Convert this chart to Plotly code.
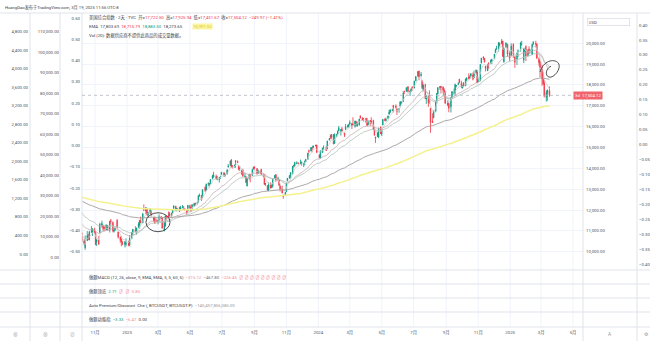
import pandas as pd
import plotly.graph_objects as go

# ---------------------------------------------------------------
# TVC:IXIC (US Composite Index), 2-day bars, Oct 2022 - Mar 2025
# ---------------------------------------------------------------
opens = [
    # Oct - Dec 2022
    10610, 11050, 10900, 10500, 10190, 10530, 10690, 10580, 10960, 10950, 11060,
    10900, 10470, 10590, 10900, 11270, 11250, 11200, 11050, 11250, 11040,
    11490, 11400, 10980, 11040, 11500, 10950, 10700, 10600, 10450, 10340, 10370,
    # Jan - Mar 2023
    10400, 10330, 10640, 10950, 11060, 10880, 11160, 11210, 11480, 11380,
    12020, 11950, 12050, 11740, 11860, 11900, 11640, 11660, 11500, 11440,
    11510, 11680, 11600, 11000, 11250, 11700, 11750, 11720, 11850, 11850, 12080,
    # Apr - Jun 2023
    12180, 11960, 12120, 12000, 12120, 12080, 12060, 12000, 11950, 12210,
    12080, 12080, 12200, 12320, 12300, 12380, 12700, 12700, 12600, 13100,
    12960, 13240, 13270, 13270, 13520, 13580, 13620, 13460, 13450, 13520, 13700,
    # Jul - Sep 2023
    13780, 13660, 13730, 14060, 14140, 14390, 14100, 14100, 14370, 14330,
    14130, 14000, 13900, 13900, 13610, 13580, 13150, 13540, 13700, 13660,
    13960, 14080, 13990, 13760, 13870, 13940, 13700, 13700, 13250, 13170, 12940,
    # Oct - Dec 2023
    13220, 13080, 13150, 13520, 13700, 13470, 13450, 13160, 13070, 12720,
    12700, 12880, 13400, 13530, 13660, 13730, 14150, 14120, 14230, 14260,
    14220, 14260, 14180, 14290, 14320, 14430, 14850, 14830, 15000, 15000, 15070, 15120,
    # Jan - Mar 2024
    14640, 14500, 14760, 15000, 14980, 14930, 15370, 15560, 15480, 15620,
    15200, 15600, 15640, 15810, 15760, 15900, 15700, 15870, 16000, 15990,
    16120, 16150, 16120, 16020, 16240, 16020, 16080, 16510, 16390, 16400,
    # Apr - Jun 2024
    16400, 16180, 16100, 16300, 16250, 16300, 15950, 15500, 15520, 15500,
    15980, 15640, 16080, 16360, 16300, 16400, 16600, 16700, 16790, 17030,
    16990, 16850, 16830, 16980, 17110, 17200, 17700, 17700, 17920, 17640, 17700, 17900,
    # Jul - Sep 2024
    17860, 18200, 18440, 18670, 18450, 18200, 17800, 18000, 17320, 17490,
    17400, 16880, 16270, 16430, 16770, 17210, 17570, 17880, 17940, 17900,
    17760, 17580, 17040, 17110, 16950, 17390, 17600, 17620, 17950, 18030, 18280, 18100,
    # Oct - Dec 2024
    17860, 18100, 17960, 18230, 18380, 18340, 18430, 18480, 18350, 18600,
    18620, 18180, 18200, 19050, 19350, 19280, 18900, 18680, 19020, 19100,
    19150, 19260, 19550, 19720, 19780, 19980, 19990, 20100, 19100, 19800, 19960, 19550,
    # Jan - Mar 2025
    19400, 19950, 19350, 19250, 19630, 19750, 19950, 19200, 19650, 19850,
    19400, 19730, 19630, 19450, 19960, 20000, 19960, 19250, 19150, 18900,
    18300, 18100, 17400, 17600, 17722.50,
]
highs = [
    11210, 11270, 10920, 10600, 10780, 10990, 10860, 10990, 11230, 11120, 11150,
    10990, 10600, 10750, 11390, 11490, 11300, 11250, 11310, 11290, 11470,
    11570, 11450, 11120, 11170, 11570, 10970, 10720, 10750, 10520, 10500, 10640,
    10530, 10800, 10940, 11090, 11220, 11150, 11420, 11520, 11690, 11850,
    12270, 12140, 12080, 11900, 12080, 11990, 11660, 11670, 11590, 11500,
    11790, 11710, 11660, 11460, 11740, 11720, 11930, 11900, 11870, 12040, 12230,
    12200, 12100, 12160, 12200, 12240, 12190, 12100, 12010, 12230, 12250,
    12150, 12280, 12340, 12360, 12400, 12700, 12790, 12720, 12990, 13120,
    13270, 13320, 13290, 13470, 13690, 13830, 13700, 13640, 13570, 13650, 13820,
    13830, 13760, 13960, 14200, 14380, 14450, 14160, 14190, 14400, 14380,
    14140, 14110, 13940, 13980, 13790, 13620, 13530, 13730, 13740, 13960,
    14080, 14090, 14000, 13930, 13880, 13980, 13730, 13710, 13300, 13180, 13330,
    13330, 13260, 13500, 13680, 13720, 13600, 13480, 13180, 13160, 12730,
    12860, 13310, 13540, 13680, 13800, 14110, 14170, 14310, 14340, 14270,
    14420, 14310, 14270, 14360, 14440, 14740, 14900, 15010, 15030, 15100, 15140, 15130,
    14680, 14850, 14990, 15100, 15060, 15320, 15450, 15620, 15630, 15650,
    15680, 15660, 15810, 16040, 15870, 15990, 15720, 16130, 16100, 16140,
    16300, 16170, 16450, 16290, 16280, 16250, 16380, 16540, 16460, 16420,
    16420, 16420, 16300, 16320, 16450, 16330, 15960, 15520, 15740, 15950,
    16010, 15850, 16360, 16400, 16440, 16530, 16800, 16850, 16860, 17040,
    17070, 16880, 16900, 17230, 17210, 17700, 17720, 17900, 17940, 17730, 17850, 17940,
    18200, 18420, 18650, 18680, 18620, 18240, 18040, 18060, 17520, 17510,
    17740, 16900, 16640, 16780, 17200, 17600, 17880, 17950, 17950, 17930,
    17850, 17720, 17260, 17160, 17410, 17700, 17830, 18070, 18000, 18130, 18290, 18200,
    18000, 18140, 18300, 18360, 18560, 18470, 18560, 18600, 18690, 18740,
    18720, 18370, 19000, 19300, 19370, 19290, 18920, 19020, 19100, 19220,
    19260, 19490, 19750, 19880, 20050, 20050, 20205, 20120, 19790, 20040, 19970, 19640,
    20000, 20000, 19380, 19560, 19710, 20070, 20120, 19780, 19770, 19900,
    19700, 19860, 19740, 19960, 20110, 20120, 19990, 19330, 19170, 18960,
    18600, 18250, 17750, 17780, 17925.94,
]
lows = [
    10590, 11000, 10470, 10320, 10090, 10520, 10560, 10540, 10900, 10750, 10860,
    10310, 10270, 10340, 10890, 11160, 11030, 10990, 11030, 11020, 10920,
    11300, 10930, 10920, 10990, 11100, 10630, 10430, 10260, 10310, 10200, 10260,
    10260, 10260, 10600, 10800, 10950, 10820, 11140, 11100, 11380, 11370,
    11950, 11800, 11740, 11650, 11810, 11690, 11440, 11330, 11430, 11310,
    11500, 11500, 11100, 10980, 11190, 11540, 11660, 11650, 11650, 11840, 12060,
    11960, 11940, 11920, 11990, 12080, 12000, 11960, 11780, 11940, 11990,
    11930, 12070, 12150, 12200, 12260, 12350, 12630, 12440, 12590, 12860,
    12930, 13150, 13080, 13230, 13470, 13560, 13470, 13430, 13320, 13500, 13690,
    13590, 13600, 13710, 14040, 14130, 14030, 13990, 14030, 14030, 14250,
    13900, 13880, 13690, 13580, 13560, 13300, 13140, 13460, 13330, 13640,
    13950, 13940, 13690, 13740, 13740, 13700, 13580, 13220, 13150, 12920, 12920,
    13030, 13050, 13080, 13500, 13360, 13390, 13160, 12890, 12800, 12540,
    12680, 12870, 13390, 13510, 13510, 13710, 14030, 14080, 14190, 14190,
    14210, 14130, 14060, 14140, 14310, 14420, 14720, 14820, 14770, 14960, 15050, 14730,
    14480, 14470, 14740, 14900, 14830, 14920, 15330, 15400, 15420, 15160,
    15180, 15500, 15630, 15780, 15570, 15760, 15500, 15850, 15950, 15930,
    16100, 15880, 16060, 15950, 16050, 16010, 16050, 16380, 16300, 16250,
    16170, 16040, 16080, 16040, 16140, 15830, 15560, 15220, 15500, 15450,
    15650, 15550, 16070, 16260, 16250, 16370, 16590, 16650, 16740, 16680,
    16870, 16560, 16670, 16970, 17070, 17190, 17570, 17670, 17640, 17470, 17690, 17720,
    17840, 18180, 18390, 18230, 18400, 17800, 17690, 17330, 17090, 16950,
    17100, 15710, 16180, 16400, 16690, 17100, 17560, 17760, 17600, 17600,
    17450, 17080, 16980, 16690, 16680, 17320, 17530, 17490, 17880, 17990, 18080, 17840,
    17830, 17900, 17950, 18200, 18260, 18290, 18400, 18220, 18340, 18540,
    18090, 18140, 18180, 19040, 19200, 19080, 18650, 18670, 18780, 19000,
    19000, 19250, 19530, 19700, 19600, 19850, 19950, 19340, 19080, 19780, 19350, 19150,
    19380, 19300, 18830, 18960, 19330, 19600, 19890, 19050, 19520, 19150,
    19360, 19500, 19520, 19440, 19930, 19800, 19260, 18930, 18380, 17960,
    18000, 17400, 17200, 17240, 17431.67,
]
closes = [
    11176, 11073, 10542, 10418, 10321, 10773, 10614, 10952, 10971, 11102, 10890,
    10343, 10565, 10353, 11323, 11358, 11145, 11025, 11285, 11049, 11468,
    11461, 11015, 11082, 11143, 11170, 10705, 10547, 10476, 10353, 10479, 10386,
    10305, 10636, 10932, 11079, 10958, 11140, 11334, 11512, 11394, 11816,
    12007, 12114, 11790, 11892, 12070, 11787, 11507, 11395, 11456, 11462,
    11676, 11576, 11138, 11429, 11717, 11675, 11670, 11824, 11716, 12013, 12190,
    11996, 12085, 11929, 12124, 12154, 12060, 12037, 11854, 12227, 12081,
    11966, 12256, 12306, 12285, 12344, 12688, 12721, 12484, 12976, 12935,
    13241, 13276, 13239, 13461, 13626, 13689, 13502, 13492, 13555, 13591, 13817,
    13680, 13686, 13919, 14114, 14354, 14064, 14059, 14128, 14317, 14284,
    13960, 14000, 13723, 13645, 13632, 13317, 13498, 13722, 13590, 13944,
    14035, 14020, 13748, 13918, 13813, 13709, 13679, 13224, 13271, 12963, 13219,
    13059, 13219, 13485, 13659, 13407, 13533, 13186, 13019, 12821, 12643,
    12851, 13294, 13518, 13650, 13798, 14094, 14113, 14285, 14266, 14242,
    14258, 14305, 14230, 14340, 14432, 14734, 14814, 15003, 14964, 15075, 15096, 14765,
    14510, 14843, 14970, 15004, 14856, 15311, 15426, 15511, 15628, 15164,
    15629, 15609, 15794, 15943, 15859, 15776, 15580, 15997, 16035, 16092,
    16207, 16032, 16085, 16265, 16129, 16166, 16369, 16429, 16316, 16379,
    16240, 16050, 16253, 16170, 16175, 15865, 15601, 15451, 15713, 15928,
    15658, 15841, 16349, 16302, 16341, 16511, 16698, 16795, 16802, 16921,
    16921, 16735, 16857, 17173, 17193, 17608, 17689, 17862, 17689, 17718, 17805, 17879,
    18188, 18403, 18647, 18398, 18509, 17871, 18007, 17342, 17358, 17147,
    17194, 16200, 16196, 16745, 17188, 17595, 17877, 17919, 17878, 17755,
    17516, 17136, 17128, 16885, 17396, 17684, 17628, 18014, 17974, 18082, 18120, 17910,
    17918, 17924, 18292, 18343, 18316, 18374, 18540, 18277, 18519, 18712,
    18095, 18180, 18983, 19287, 19282, 19107, 18792, 18967, 19004, 19175,
    19218, 19481, 19701, 19737, 20034, 19927, 20109, 19373, 19765, 20020, 19487, 19280,
    19865, 19479, 19088, 19511, 19630, 20009, 19955, 19734, 19681, 19392,
    19692, 19523, 19643, 19945, 20041, 19962, 19287, 19075, 18847, 18285,
    18069, 17468, 17648, 17754.09, 17504.12,
]
assert len(opens) == len(highs) == len(lows) == len(closes), (
    len(opens), len(highs), len(lows), len(closes))

# Exchange closures inside the window (for the trading calendar)
market_holidays = [
    "2022-11-24", "2022-12-26", "2023-01-02", "2023-01-16", "2023-02-20",
    "2023-04-07", "2023-05-29", "2023-06-19", "2023-07-04", "2023-09-04",
    "2023-11-23", "2023-12-25", "2024-01-01", "2024-01-15", "2024-02-19",
    "2024-03-29", "2024-05-27", "2024-06-19", "2024-07-04", "2024-09-02",
    "2024-11-28", "2024-12-25", "2025-01-01", "2025-01-09", "2025-01-20",
    "2025-02-17",
]

# Moving averages: period (bars), value on the first bar, colour
ema_periods = [5, 20, 30, 100, 200]
ema_start = [10900, 11440, 12000, 12480, 12640]
ema_colors = ["#cfcfcf", "#c7b0b2", "#b2c2b9", "#a59e9e", "#f4f18e"]
ema_widths = [0.8, 0.8, 0.8, 0.9, 1.5]

# Time-axis labels
month_ticks = ["2022-11-01", "2023-01-01", "2023-03-01", "2023-05-01", "2023-07-01",
               "2023-09-01", "2023-11-01", "2024-01-01", "2024-03-01", "2024-05-01",
               "2024-07-01", "2024-09-01", "2024-11-01", "2025-01-01", "2025-03-01",
               "2025-05-01"]
month_labels = ["11月", "2023", "3月", "5月", "7月", "9月", "11月", "2024", "3月", "5月",
                "7月", "9月", "11月", "2025", "3月", "5月"]

# Price scale and the extra indicator scales
price_ticks = list(range(10000, 20001, 1000))
price_range = [9122, 21454]
right_aux_range = [-0.417, 0.44]
left_aux1_ticks = list(range(0, 4801, 400))
left_aux1_range = [-345, 5204]
left_aux2_ticks = list(range(0, 110001, 10000))
left_aux2_range = [-6348, 119130]
left_aux3_range = [-0.586, 0.624]
x_range = ["2022-10-07", "2025-05-20"]

# Hand drawings on the chart (date, price)
ellipse_box = ("2023-02-06", "2023-03-24", 10960, 11870)
loop_points = [("2025-02-27", 18620), ("2025-03-05", 19150), ("2025-03-25", 19300),
               ("2025-04-03", 19050), ("2025-04-10", 18800), ("2025-03-25", 18300),
               ("2025-03-16", 18380), ("2025-03-08", 18450), ("2025-03-10", 18800),
               ("2025-03-20", 18900)]

# ---------------------------------------------------------------
W, H = 650, 341
FONT = "Roboto, 'Noto Sans CJK SC', sans-serif"
TXT = "#3b3e47"
AX_TXT = "#50535e"
GRID = "#f0f3fa"
SEP = "#e0e3eb"
UP, DOWN = "#089981", "#f23645"
FS = 4.3


def px(x):
    return x / W


def py(y):
    return 1 - y / H


cal = pd.offsets.CustomBusinessDay(holidays=market_holidays)
sessions = pd.date_range("2022-10-03", "2025-03-18", freq=cal)
bar_dates = sessions[::2][:len(closes)]


def ema(values, period, first):
    k = 2.0 / (period + 1)
    out = [first]
    for v in values[1:]:
        out.append(out[-1] + k * (v - out[-1]))
    return out


emas = [ema(closes, p, s) for p, s in zip(ema_periods, ema_start)]

fig = go.Figure()

fig.add_trace(go.Candlestick(
    x=bar_dates, open=opens, high=highs, low=lows, close=closes,
    increasing=dict(line=dict(color=UP, width=0.8), fillcolor=UP),
    decreasing=dict(line=dict(color=DOWN, width=0.8), fillcolor=DOWN),
    whiskerwidth=0, showlegend=False, hoverinfo="skip",
    xaxis="x", yaxis="y",
))
for vals, c, wd in zip(emas, ema_colors, ema_widths):
    fig.add_trace(go.Scatter(x=bar_dates, y=vals, mode="lines",
                             line=dict(color=c, width=wd),
                             showlegend=False, hoverinfo="skip",
                             xaxis="x", yaxis="y"))
# empty traces that register the extra scales
for ax in ["y2", "y3", "y4", "y5"]:
    fig.add_trace(go.Scatter(x=[], y=[], xaxis="x", yaxis=ax,
                             showlegend=False, hoverinfo="skip"))

PANE = [py(270), py(13)]
tickfont = dict(size=FS, color=AX_TXT, family=FONT)


def axis(**kw):
    base = dict(showgrid=False, zeroline=False, showline=False, ticks="",
                tickfont=tickfont, automargin=False, fixedrange=True)
    base.update(kw)
    return base


fig.update_layout(
    width=W, height=H, template="none",
    margin=dict(l=0, r=0, t=0, b=0),
    paper_bgcolor="white", plot_bgcolor="white",
    font=dict(family=FONT, size=FS, color=TXT),
    showlegend=False,
    xaxis=axis(type="date", domain=[px(82), px(583)], range=x_range,
               anchor="free", position=py(327),
               tickmode="array", tickvals=month_ticks, ticktext=month_labels,
               rangeslider=dict(visible=False), ticklabelstandoff=2),
    yaxis=axis(domain=PANE, range=price_range, side="right", anchor="x",
               tickmode="array", tickvals=price_ticks, tickformat=",.2f",
               showgrid=True, gridcolor=GRID, gridwidth=1, ticklabelstandoff=2),
    yaxis2=axis(overlaying="y", range=right_aux_range, side="right",
                anchor="free", position=px(637), tick0=0, dtick=0.05,
                tickformat=".2f", ticklabelstandoff=1),
    yaxis3=axis(overlaying="y", range=left_aux3_range, side="left",
                anchor="free", position=px(82), tick0=0, dtick=0.1,
                tickformat=".2f", ticklabelstandoff=2),
    yaxis4=axis(overlaying="y", range=left_aux2_range, side="left",
                anchor="free", position=px(60), tickmode="array",
                tickvals=left_aux2_ticks, tickformat=",.2f", ticklabelstandoff=1),
    yaxis5=axis(overlaying="y", range=left_aux1_range, side="left",
                anchor="free", position=px(30), tickmode="array",
                tickvals=left_aux1_ticks, tickformat=",.2f", ticklabelstandoff=2),
)

shapes = []
# vertical grid at each time label
for d in month_ticks:
    shapes.append(dict(type="line", xref="x", yref="paper", x0=d, x1=d,
                       y0=py(327), y1=py(13), line=dict(color=GRID, width=1),
                       layer="below"))
# pane borders and scale separators
for y in [13, 270, 284, 298, 312, 327]:
    shapes.append(dict(type="line", xref="paper", yref="paper", x0=0, x1=1,
                       y0=py(y), y1=py(y), line=dict(color=SEP, width=1)))
for x in [30, 60, 82, 583, 637]:
    shapes.append(dict(type="line", xref="paper", yref="paper", x0=px(x), x1=px(x),
                       y0=0, y1=py(13), line=dict(color=SEP, width=1)))
# last price line
shapes.append(dict(type="line", xref="paper", yref="y", x0=px(82), x1=px(583),
                   y0=closes[-1], y1=closes[-1],
                   line=dict(color="#b2b5be", width=0.8, dash="dot")))
# drawings
x0, x1, y0, y1 = ellipse_box
shapes.append(dict(type="circle", xref="x", yref="y", x0=x0, x1=x1, y0=y0, y1=y1,
                   line=dict(color="#3d3d3d", width=0.9)))


def ms(d):
    return pd.Timestamp(d).value // 10**6


pts = [(ms(d), v) for d, v in loop_points]
path = f"M {pts[0][0]},{pts[0][1]}"
for i in range(1, len(pts) - 2, 3):
    a, b, c = pts[i], pts[i + 1], pts[i + 2]
    path += f" C {a[0]},{a[1]} {b[0]},{b[1]} {c[0]},{c[1]}"
shapes.append(dict(type="path", xref="x", yref="y", path=path,
                   line=dict(color="#3d3d3d", width=0.9)))
fig.update_layout(shapes=shapes)

ann = []


def label(x, y, text, size=FS, color=TXT, xanchor="left", yref="paper", **kw):
    ann.append(dict(x=x, y=y, xref="paper", yref=yref, text=text, showarrow=False,
                    xanchor=xanchor, yanchor="middle",
                    font=dict(size=size, color=color, family=FONT), **kw))


def col(text, c):
    return f"<span style='color:{c}'>{text}</span>"


label(px(3), py(8), "HuangDao发布于TradingView.com, 3月 19, 2025 11:56 UTC-8", size=4.2)

chg = closes[-1] - closes[-2]
pct = chg / closes[-2] * 100
red = "#f23645"
line1 = ("美国综合指数 · 2天 · TVC  "
         f"开={col(f'{opens[-1]:,.2f}', red)}  高={col(f'{highs[-1]:,.2f}', red)}  "
         f"低={col(f'{lows[-1]:,.2f}', red)}  收={col(f'{closes[-1]:,.2f}', red)}  "
         + col(f"{chg:+,.2f} ({pct:+.2f}%)".replace("-", "−"), red))
label(px(87), py(18), line1)

last_emas = [e[-1] for e in emas]
ema_txt_cols = [TXT, "#f23645", "#089981", TXT]
line2 = "EMA  " + "  ".join(col(f"{v:,.2f}", c) for v, c in zip(last_emas[:4], ema_txt_cols))
label(px(87), py(26.5), line2)
label(px(192), py(26.5), f"{last_emas[4]:,.2f}", color="#d9c62e", bgcolor="#fbf6a6",
      borderpad=0)
label(px(87), py(35), "Vol (20): 数据供应商不提供此商品的成交量数据。")

pink = "#f08c96"
label(px(87), py(277), "做题MACD (12, 26, close, 9, EMA, EMA, 5, 5, 60, 5)  "
      + col("−315.12", pink) + "  " + col("−467.80", "#6a6d78") + "  "
      + col("−226.45", pink) + "  " + col("∅ ∅ ∅ ∅ ∅ ∅ ∅ ∅ ∅", pink))
label(px(87), py(291), "做题顶底  " + col("2.71", "#089981") + "  "
      + col("∅  ∅", pink) + "  " + col("0.85", pink))
label(px(87), py(305), "Auto Premium/Discount  Che (, BTCUSDT, BTCUSDT.P)  "
      + col("−145,457,856,085.00", "#9598a1"))
label(px(87), py(319), "做题动能指  " + col("−3.33", "#089981") + "  "
      + col("−6.47", pink) + "  " + col("0.00", TXT))

# bottom row icons
for x, t in [(15, "⊗"), (45, "⊗"), (72, "⊘"), (610, "A"), (646, "⚙")]:
    label(px(x), py(334), t, size=4.8, color="#9598a1", xanchor="center")

# scale header and last price badge
label(px(587), py(22.5), "USD", size=4.3, color=TXT, bgcolor="white",
      bordercolor="#d1d4dc", borderwidth=0.6, borderpad=1, width=40, align="left")
label(px(573), closes[-1], f"3d  {closes[-1]:,.2f}", yref="y", size=4.3,
      color="white", bgcolor="#f0646c", borderpad=1)

fig.update_layout(annotations=ann)
fig.write_html("out.html")
